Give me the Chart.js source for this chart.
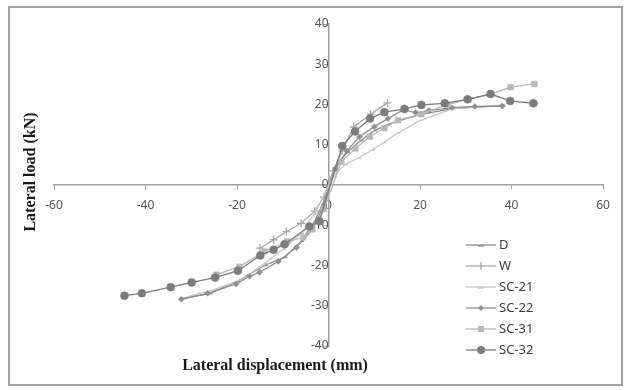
<!DOCTYPE html>
<html>
<head>
<meta charset="utf-8">
<script src="https://cdn.jsdelivr.net/npm/chart.js@4.4.4/dist/chart.umd.min.js"></script>
<style>
  html, body { margin: 0; padding: 0; background: #fff; }
  #wrap { position: relative; width: 627px; height: 390px; }
  #frame {
    position: absolute; left: 8px; top: 6px; width: 611px; height: 376px;
    border: 2px solid #a3a3a3; box-sizing: content-box;
  }
  canvas { position: absolute; left: 0; top: 0; }
</style>
</head>
<body>
<div id="wrap">
  <div id="frame"></div>
  <canvas id="chart" width="627" height="390"></canvas>
</div>
<script>
// ─── Data ────────────────────────────────────────────────────────────────────
const X_TICKS = [-60, -40, -20, 0, 20, 40, 60];
const Y_TICKS = [-40, -30, -20, -10, 0, 10, 20, 30, 40];

const dX = [-32, -26, -20, -14, -9.6, -6, -3, -1, 1.5, 4, 7, 10, 14, 20, 27, 38];
const dY = [-28.2, -27, -24, -20, -18, -14, -9, -4, 4.5, 8, 11, 13.5, 15.5, 17.5, 19, 19.7];

const wX = [-15, -12, -9.2, -6, -3, -1, 1, 3, 5.5, 9.2, 12.9];
const wY = [-15.7, -13.6, -11.6, -9.5, -6.5, -3, 3.5, 8.5, 14.4, 17.6, 20.4];

const sc21X = [-31, -25, -19, -14, -10, -6, -3, 1, 3.5, 6.5, 9.5, 12, 15.1, 20, 27, 38];
const sc21Y = [-27.8, -26, -23.5, -19.5, -16, -12, -7, 2, 5, 6.7, 8.7, 10.5, 12.9, 16, 18.9, 19.9];

const sc22X = [-32.2, -26.4, -20.2, -17.3, -15.1, -11, -7, -3.5, -1, 1.5, 4, 6.8, 10, 13, 16.4, 19, 22, 27, 32, 38];
const sc22Y = [-28.4, -26.9, -24.6, -22.7, -21.7, -19, -15.5, -11, -5, 4, 8.5, 12, 14.5, 16.5, 18.7, 18, 18.5, 19.2, 19.5, 19.6];

const sc31X = [-24.5, -19.5, -14, -9, -5.5, -3.5, -1, 2.8, 5.9, 9.0, 12.2, 15.2, 20.3, 26, 30.5, 35.5, 39.8, 45];
const sc31Y = [-22.3, -20.3, -16.5, -14, -13, -11, -6, 5.8, 9.1, 12.0, 14.1, 16.1, 17.6, 20.0, 21.3, 22.6, 24.3, 25.1];

const sc32X = [-44.6, -40.8, -34.5, -29.9, -24.8, -19.8, -14.9, -12.0, -9.6, -4.2, -2.0, 3.0, 5.8, 9.1, 12.2, 16.6, 20.3, 25.4, 30.4, 35.4, 39.7, 44.8];
const sc32Y = [-27.5, -26.9, -25.4, -24.2, -23.0, -21.3, -17.5, -16.1, -14.7, -10.3, -9.0, 9.7, 13.3, 16.5, 18.1, 18.9, 19.9, 20.3, 21.3, 22.6, 20.9, 20.3];

const LABELS = ['D', 'W', 'SC-21', 'SC-22', 'SC-31', 'SC-32'];

// ─── Helpers ────────────────────────────────────────────────────────────────
const pts = (xs, ys) => xs.map((x, i) => ({ x, y: ys[i] }));

function series(label, xs, ys, color, style, radius, order) {
  return {
    label,
    data: pts(xs, ys),
    showLine: true,
    borderColor: color,
    backgroundColor: color,
    borderWidth: 1.3,
    pointStyle: style,
    pointRadius: radius,
    pointBorderColor: color,
    pointBackgroundColor: color,
    pointBorderWidth: style === 'cross' || style === 'dash' ? 1.3 : 0.5,
    order,
  };
}

// Marker drawing for the custom legend
function drawMarker(ctx, style, x, y, r, color) {
  ctx.save();
  ctx.fillStyle = color;
  ctx.strokeStyle = color;
  ctx.lineWidth = 1.3;
  ctx.beginPath();
  if (style === 'circle') {
    ctx.arc(x, y, r, 0, Math.PI * 2);
    ctx.fill();
  } else if (style === 'rect') {
    ctx.fillRect(x - r * 0.75, y - r * 0.75, r * 1.5, r * 1.5);
  } else if (style === 'rectRot') {
    ctx.moveTo(x, y - r); ctx.lineTo(x + r, y); ctx.lineTo(x, y + r); ctx.lineTo(x - r, y);
    ctx.closePath(); ctx.fill();
  } else if (style === 'cross') {
    ctx.moveTo(x, y - r); ctx.lineTo(x, y + r); ctx.stroke();
  } else if (style === 'dash') {
    ctx.moveTo(x - r, y + 1); ctx.lineTo(x + r, y + 1); ctx.stroke();
  }
  ctx.restore();
}

// ─── Titles + legend plugin ─────────────────────────────────────────────────
const decorPlugin = {
  id: 'decor',
  afterDraw(chart) {
    const ctx = chart.ctx;
    ctx.save();
    ctx.fillStyle = '#1a1a1a';
    ctx.font = 'bold 16px "Liberation Serif", "Times New Roman", serif';
    ctx.textAlign = 'center';
    ctx.textBaseline = 'middle';
    ctx.fillText('Lateral displacement (mm)', 275, 366);

    ctx.translate(31, 172);
    ctx.rotate(-Math.PI / 2);
    ctx.fillText('Lateral load (kN)', 0, 0);
    ctx.restore();

    // legend
    ctx.save();
    ctx.font = '13px "Noto Sans", sans-serif';
    ctx.textAlign = 'left';
    ctx.textBaseline = 'middle';
    chart.data.datasets.forEach((ds, i) => {
      const y = 245 + i * 21;
      ctx.strokeStyle = ds.borderColor;
      ctx.lineWidth = 1.3;
      ctx.beginPath();
      ctx.moveTo(466, y);
      ctx.lineTo(496, y);
      ctx.stroke();
      drawMarker(ctx, ds.pointStyle, 481, y, ds.pointRadius, ds.borderColor);
      ctx.fillStyle = '#404040';
      ctx.fillText(ds.label, 499, y);
    });
    ctx.restore();
  },
};

// ─── Chart ──────────────────────────────────────────────────────────────────
Chart.defaults.font.family = '"Noto Sans", sans-serif';
Chart.defaults.font.size = 12;
Chart.defaults.color = '#555555';
Chart.defaults.animation = false;

const axisStyle = {
  grid: { drawOnChartArea: false, drawTicks: true, tickLength: 4, color: '#a0a0a0' },
  border: { color: '#a0a0a0', width: 1.5 },
};

new Chart(document.getElementById('chart').getContext('2d'), {
  type: 'scatter',
  data: {
    datasets: [
      series(LABELS[0], dX, dY, '#8c8c8c', 'dash', 3, 6),
      series(LABELS[1], wX, wY, '#a8a8a8', 'cross', 4, 5),
      series(LABELS[2], sc21X, sc21Y, '#c6c6c6', 'dash', 3, 4),
      series(LABELS[3], sc22X, sc22Y, '#8e8e8e', 'rectRot', 3, 3),
      series(LABELS[4], sc31X, sc31Y, '#b8b8b8', 'rect', 4, 2),
      series(LABELS[5], sc32X, sc32Y, '#7c7c7c', 'circle', 4, 1),
    ],
  },
  options: {
    responsive: false,
    maintainAspectRatio: false,
    layout: { padding: { left: 54, right: 24, top: 24, bottom: 44 } },
    scales: {
      x: {
        type: 'linear',
        position: { y: 0 },
        min: -60, max: 60,
        afterBuildTicks: s => { s.ticks = X_TICKS.map(v => ({ value: v })); },
        ticks: { padding: 9 },
        ...axisStyle,
      },
      y: {
        type: 'linear',
        position: { x: 0 },
        min: -40, max: 40,
        afterBuildTicks: s => { s.ticks = Y_TICKS.map(v => ({ value: v })); },
        ticks: { padding: 9 },
        ...axisStyle,
      },
    },
    plugins: {
      legend: { display: false },
      tooltip: { enabled: false },
    },
  },
  plugins: [decorPlugin],
});
</script>
</body>
</html>
